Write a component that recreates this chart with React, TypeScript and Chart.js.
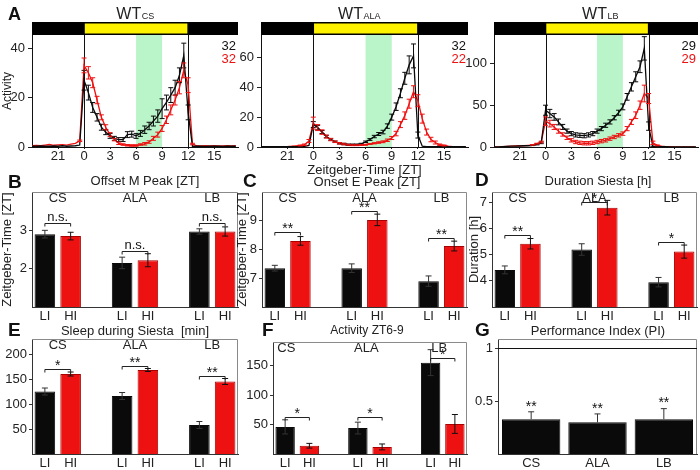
import { useEffect, useRef } from 'react';
import { Chart, registerables } from 'chart.js';

Chart.register(...registerables);

const FONT = "'Liberation Sans', Arial, Helvetica, sans-serif";
Chart.defaults.font.family = FONT;
Chart.defaults.color = '#222';

// ---------------- Panel A: activity profiles, half-hour bins ----------------
const ztHours = [
  -6, -5.5, -5, -4.5, -4, -3.5, -3, -2.5, -2, -1.5, -1, -0.5,
  0, 0.5, 1, 1.5, 2, 2.5, 3, 3.5, 4, 4.5, 5, 5.5,
  6, 6.5, 7, 7.5, 8, 8.5, 9, 9.5, 10, 10.5, 11, 11.5,
  12, 12.5, 13, 13.5, 14, 14.5, 15, 15.5, 16, 16.5, 17, 17.5,
];
const ztTickValues = [-3, 0, 3, 6, 9, 12, 15];
const ztTickLabels = ['21', '0', '3', '6', '9', '12', '15'];

const csLow = [
  0.3, 0.3, 0.4, 0.3, 0.3, 0.4, 0.3, 0.5, 0.3, 0.4, 0.5, 0.8,
  27, 22, 16, 12, 8, 6, 4.5, 3.5, 3, 3, 5, 5.2,
  4.5, 5.5, 7, 8.5, 10.5, 12.5, 15.5, 18, 21, 24, 29, 37,
  14, 0.3, 0.3, 0.3, 0.2, 0.3, 0.3, 0.3, 0.2, 0.3, 0.3, 0.3,
];
const csLowErr = [
  0, 0, 0, 0, 0, 0, 0, 0, 0, 0, 0, 0,
  4, 3, 2, 1.5, 1.2, 1, 1, 0.8, 0.8, 0.8, 1.2, 1.2,
  1, 1.2, 1.5, 1.5, 2, 2.5, 4, 3, 3, 3, 3, 5,
  3, 0, 0, 0, 0, 0, 0, 0, 0, 0, 0, 0,
];
const csHigh = [
  0.5, 0.6, 0.5, 0.8, 1, 0.7, 0.9, 1, 0.8, 1.2, 1.5, 2.5,
  33, 30, 26, 19, 12, 8, 5, 3, 1.5, 1, 0.7, 0.6,
  0.6, 1, 1.3, 2, 3.5, 5, 7.5, 11, 15, 19, 24, 31,
  25, 1.2, 0.5, 0.4, 0.5, 0.4, 0.5, 0.4, 0.4, 0.5, 0.4, 0.5,
];
const csHighErr = [
  0, 0, 0, 0, 0, 0, 0, 0, 0, 0, 0, 0.3,
  3, 2.5, 2, 1.5, 1, 1, 0.8, 0.5, 0.5, 0.3, 0.3, 0.3,
  0.3, 0.3, 0.5, 0.5, 0.8, 1, 1.2, 1.5, 2, 2, 2.5, 3,
  3, 0.3, 0, 0, 0, 0, 0, 0, 0, 0, 0, 0,
];

const alaLow = [
  0.2, 0.2, 0.2, 0.2, 0.2, 0.2, 0.2, 0.2, 0.3, 0.3, 0.5, 1,
  15, 13, 10, 7, 5, 3.5, 2.5, 2, 1.5, 1.5, 1.5, 2,
  3.5, 5, 7, 8.7, 10, 14, 20, 27, 36, 46, 55, 61,
  8, 0.5, 0.3, 0.2, 0.2, 0.2, 0.2, 0.2, 0.2, 0.2, 0.2, 0.2,
];
const alaLowErr = [
  0, 0, 0, 0, 0, 0, 0, 0, 0, 0, 0, 0,
  2, 1.5, 1, 0.8, 0.5, 0.5, 0.5, 0.5, 0.5, 0.5, 0.5, 0.5,
  0.5, 0.6, 0.8, 1, 1.2, 1.5, 2, 2.5, 3, 4, 6, 8,
  2, 0, 0, 0, 0, 0, 0, 0, 0, 0, 0, 0,
];
const alaHigh = [
  0, 0, 0, 0, 0.2, 0.2, 0.3, 0.5, 0.8, 1, 1.5, 4,
  16, 13, 10, 7, 5, 3.5, 2.5, 2, 1.5, 1.2, 1.2, 1.3,
  1.5, 2, 2.5, 3, 3.5, 4.5, 6, 9, 15, 21, 29, 37,
  31, 19, 10, 5, 3, 1.5, 1, 0.5, 0.3, 0.2, 0.2, 0.2,
];
const alaHighErr = [
  0, 0, 0, 0, 0, 0, 0, 0, 0, 0.3, 0.5, 1,
  4, 2, 1.5, 1, 0.8, 0.5, 0.5, 0.5, 0.3, 0.3, 0.3, 0.3,
  0.3, 0.3, 0.4, 0.5, 0.6, 0.8, 1, 1.5, 2, 2.5, 3, 4,
  4, 3, 2, 1.5, 1, 0.5, 0.3, 0, 0, 0, 0, 0,
];

const lbLow = [
  0, 0, 0.5, 0.8, 1, 1, 1.2, 1.5, 1.5, 2, 3, 5,
  44, 40, 36, 30, 24, 19, 16, 14.5, 14, 13.5, 14.5, 16,
  19, 22, 26, 30, 35, 41, 48, 60, 72, 84, 96, 118,
  25, 0.5, 0.3, 0.3, 0.3, 0.2, 0.2, 0.2, 0.2, 0.2, 0.2, 0.2,
];
const lbLowErr = [
  0, 0, 0, 0, 0, 0, 0, 0, 0, 0.3, 0.5, 1,
  6, 5, 4, 3.5, 3, 2.5, 2.5, 2.5, 2.5, 2.5, 2.5, 2.5,
  2.5, 2.5, 2.5, 2.5, 2.5, 3, 3.5, 4, 5, 6, 7, 14,
  5, 0.5, 0, 0, 0, 0, 0, 0, 0, 0, 0, 0,
];
const lbHigh = [
  0, 0, 0.5, 0.8, 1, 1.2, 1.5, 1.5, 2, 2.5, 4, 6,
  31, 28, 24, 19, 15, 11, 8, 6, 5, 4.5, 4.5, 5,
  6, 7, 8, 10, 12, 14, 16, 22, 30, 38, 50, 64,
  58, 5, 2, 1, 0.5, 0.3, 0.2, 0.2, 0.2, 0.2, 0.2, 0.2,
];
const lbHighErr = [
  0, 0, 0, 0, 0, 0, 0, 0, 0, 0.3, 0.5, 1,
  5, 4, 3, 2.5, 2, 2, 2, 2, 2, 2, 2, 2,
  2, 2, 2, 2, 2, 2, 2, 2.5, 3, 4, 5, 10,
  6, 2, 0.5, 0, 0, 0, 0, 0, 0, 0, 0, 0,
];

// ---------------- Panels B-G: LI vs HI summaries (CS, ALA, LB) ----------------
const strains = ['CS', 'ALA', 'LB'];
const slotLabels = ['LI', 'HI', '', 'LI', 'HI', '', 'LI', 'HI'];

const offsetLI = [2.9, 2.15, 2.97];
const offsetHI = [2.85, 2.22, 2.97];
const offsetLIErr = [0.1, 0.15, 0.07];
const offsetHIErr = [0.1, 0.17, 0.12];
const offsetSig = ['n.s.', 'n.s.', 'n.s.'];
const offsetSigAt = [3.2, 2.47, 3.2];

const onsetLI = [7.35, 7.35, 6.9];
const onsetHI = [8.3, 9.03, 8.12];
const onsetLIErr = [0.1, 0.15, 0.18];
const onsetHIErr = [0.15, 0.2, 0.17];
const onsetSig = ['**', '**', '**'];
const onsetSigAt = [8.6, 9.35, 8.4];

const durationLI = [4.42, 5.2, 3.95];
const durationHI = [5.42, 6.8, 5.12];
const durationLIErr = [0.15, 0.22, 0.18];
const durationHIErr = [0.2, 0.28, 0.25];
const durationSig = ['**', '*', '*'];
const durationSigAt = [5.75, 7.0, 5.5];

const sleepLI = [125, 116, 58];
const sleepHI = [160, 168, 145];
const sleepLIErr = [7, 7, 7];
const sleepHIErr = [4, 3, 6];
const sleepSig = ['*', '**', '**'];
const sleepSigAt = [170, 176, 156];

const activityLI = [46, 44, 155];
const activityHI = [14, 12, 51];
const activityLIErr = [12, 10, 22];
const activityHIErr = [4, 5, 16];
const activitySig = ['*', '*', '*'];
const activitySigAt = [63, 63, 163];

const performanceIndex = [0.33, 0.3, 0.33];
const performanceErr = [0.07, 0.08, 0.1];
const performanceSig = ['**', '**', '**'];

// ---------------- styling ----------------
const BLACK = '#0a0a0a';
const RED = '#ee1111';
const RED_EDGE = '#a80000';
const GREEN = '#b9f5c8';
const YELLOW = '#fff200';

type Box = { left: number; top: number; width: number; height: number };
type Area = { left: number; top: number; right: number; bottom: number };

function drawLetter(ctx: any, box: Box, letter: string, at: number[], size = 19) {
  ctx.save();
  ctx.font = `bold ${size}px ${FONT}`;
  ctx.fillStyle = '#111';
  ctx.textAlign = 'left';
  ctx.textBaseline = 'middle';
  ctx.fillText(letter, at[0] - box.left, at[1] - box.top);
  ctx.restore();
}

function drawTitle(ctx: any, box: Box, text: string, at: number[], size = 13) {
  ctx.save();
  ctx.font = `${size}px ${FONT}`;
  ctx.fillStyle = '#222';
  ctx.textAlign = 'center';
  ctx.textBaseline = 'middle';
  ctx.fillText(text, at[0] - box.left, at[1] - box.top);
  ctx.restore();
}

function errBar(ctx: any, x: number, yTop: number, yBot: number, cap: number, color: string) {
  ctx.strokeStyle = color;
  ctx.beginPath();
  ctx.moveTo(x, yTop);
  ctx.lineTo(x, yBot);
  ctx.moveTo(x - cap, yTop);
  ctx.lineTo(x + cap, yTop);
  ctx.moveTo(x - cap, yBot);
  ctx.lineTo(x + cap, yBot);
  ctx.stroke();
}

// ---------------- line panels ----------------
type LinePanel = {
  box: Box; area: Area; xH: number; yMax: number; yTicks: number[];
  low: number[]; lowErr: number[]; high: number[]; highErr: number[];
  nLow: string; nHigh: string; sub: string; titleAt: number[];
  letter?: string; yTitle?: string; xTitle?: string;
};

const linePanels: LinePanel[] = [
  {
    box: { left: 0, top: 0, width: 245, height: 170 },
    area: { left: 32, top: 35, right: 238, bottom: 147 }, xH: 18,
    yMax: 45.3, yTicks: [0, 20, 40],
    low: csLow, lowErr: csLowErr, high: csHigh, highErr: csHighErr,
    nLow: '32', nHigh: '32', sub: 'CS', titleAt: [135, 18.5], letter: 'A', yTitle: 'Activity',
  },
  {
    box: { left: 238, top: 0, width: 234, height: 180 },
    area: { left: 261, top: 35, right: 468, bottom: 147 }, xH: 33,
    yMax: 75, yTicks: [0, 20, 40, 60],
    low: alaLow, lowErr: alaLowErr, high: alaHigh, highErr: alaHighErr,
    nLow: '32', nHigh: '22', sub: 'ALA', titleAt: [359, 18.5], xTitle: 'Zeitgeber-Time [ZT]',
  },
  {
    box: { left: 462, top: 0, width: 238, height: 170 },
    area: { left: 494, top: 35, right: 698, bottom: 147 }, xH: 18,
    yMax: 134, yTicks: [0, 50, 100],
    low: lbLow, lowErr: lbLowErr, high: lbHigh, highErr: lbHighErr,
    nLow: '29', nHigh: '29', sub: 'LB', titleAt: [600, 18.5],
  },
];

function lineConfig(p: LinePanel) {
  const mk = (vals: number[]) => ztHours.map((h, i) => ({ x: h, y: vals[i] }));
  const errs = [p.lowErr, p.highErr];
  const vals = [p.low, p.high];
  const plugin = {
    id: 'panelA',
    beforeDatasetsDraw(chart: any) {
      const { ctx, chartArea: a, scales } = chart;
      const xs = scales.x;
      const x6 = xs.getPixelForValue(6);
      const x9 = xs.getPixelForValue(9);
      ctx.save();
      ctx.fillStyle = GREEN;
      ctx.fillRect(x6, a.top, x9 - x6, a.bottom - a.top);
      ctx.strokeStyle = '#111';
      ctx.lineWidth = 1;
      [0, 12].forEach((h) => {
        const x = Math.round(xs.getPixelForValue(h)) + 0.5;
        ctx.beginPath();
        ctx.moveTo(x, a.top);
        ctx.lineTo(x, a.bottom);
        ctx.stroke();
      });
      ctx.restore();
    },
    afterDatasetsDraw(chart: any) {
      const { ctx, scales } = chart;
      ctx.save();
      ctx.lineWidth = 1;
      [0, 1].forEach((d) => {
        const meta = chart.getDatasetMeta(d);
        const color = d === 0 ? BLACK : RED;
        meta.data.forEach((pt: any, i: number) => {
          const e = errs[d][i];
          if (!e) return;
          const v = vals[d][i];
          errBar(ctx, pt.x, scales.y.getPixelForValue(v + e), scales.y.getPixelForValue(Math.max(0, v - e)), 2.5, color);
        });
      });
      ctx.restore();
    },
    afterDraw(chart: any) {
      const { ctx, chartArea: a, scales } = chart;
      const xs = scales.x;
      const x0 = xs.getPixelForValue(0);
      const x12 = xs.getPixelForValue(12);
      const top = a.top - 13;
      ctx.save();
      ctx.fillStyle = '#000';
      ctx.fillRect(a.left, top, x0 - a.left, 13);
      ctx.fillRect(x12, top, a.right - x12, 13);
      ctx.fillStyle = YELLOW;
      ctx.fillRect(x0, top, x12 - x0, 13);
      ctx.strokeStyle = '#000';
      ctx.lineWidth = 1.5;
      ctx.strokeRect(x0, top + 0.75, x12 - x0, 11.5);
      // sample sizes
      ctx.font = `13px ${FONT}`;
      ctx.textAlign = 'right';
      ctx.textBaseline = 'middle';
      ctx.fillStyle = '#111';
      ctx.fillText(p.nLow, a.right - 2, a.top + 11);
      ctx.fillStyle = RED;
      ctx.fillText(p.nHigh, a.right - 2, a.top + 24);
      // title WT + strain
      ctx.fillStyle = '#222';
      ctx.textBaseline = 'alphabetic';
      ctx.textAlign = 'left';
      ctx.font = `16px ${FONT}`;
      const w1 = ctx.measureText('WT').width;
      ctx.font = `9px ${FONT}`;
      const w2 = ctx.measureText(p.sub).width;
      const sx = p.titleAt[0] - p.box.left - (w1 + w2) / 2;
      const sy = p.titleAt[1] - p.box.top;
      ctx.font = `16px ${FONT}`;
      ctx.fillText('WT', sx, sy);
      ctx.font = `9px ${FONT}`;
      ctx.fillText(p.sub, sx + w1 + 0.5, sy);
      ctx.restore();
      if (p.letter) drawLetter(ctx, p.box, p.letter, [8, 15], 18);
    },
  };
  const line = (vals: number[], color: string) => ({
    data: mk(vals), borderColor: color, backgroundColor: color,
    borderWidth: 1.3, pointRadius: 0, tension: 0,
  });
  return {
    type: 'line',
    data: { datasets: [line(p.low, BLACK), line(p.high, RED)] },
    options: {
      animation: false,
      responsive: false,
      maintainAspectRatio: false,
      layout: {
        padding: {
          left: 0,
          top: p.area.top - p.box.top,
          right: p.box.left + p.box.width - p.area.right,
          bottom: p.box.top + p.box.height - p.area.bottom - p.xH,
        },
      },
      plugins: { legend: { display: false }, tooltip: { enabled: false } },
      scales: {
        x: {
          type: 'linear', min: -6, max: 17.75,
          grid: { display: true, drawOnChartArea: false, tickLength: 2, color: '#222' },
          border: { color: '#111' },
          ticks: {
            font: { size: 13 }, padding: 0, maxRotation: 0, autoSkip: false,
            callback: (_v: any, i: number) => ztTickLabels[i] ?? '',
          },
          afterBuildTicks: (s: any) => { s.ticks = ztTickValues.map((v) => ({ value: v })); },
          afterFit: (s: any) => { s.height = p.xH; },
          title: { display: !!p.xTitle, text: p.xTitle || '', font: { size: 13 }, padding: { top: 0, bottom: 2 } },
        },
        y: {
          min: 0, max: p.yMax,
          grid: { display: true, drawOnChartArea: false, tickLength: 4, color: '#222' },
          border: { color: '#111' },
          ticks: { font: { size: 13 }, padding: 3 },
          afterBuildTicks: (s: any) => { s.ticks = p.yTicks.map((v) => ({ value: v })); },
          afterFit: (s: any) => { s.width = p.area.left - p.box.left; },
          title: { display: !!p.yTitle, text: p.yTitle || '', font: { size: 12 }, padding: { top: 0, bottom: 0 } },
        },
      },
    },
    plugins: [plugin],
  };
}

// ---------------- bar panels ----------------
type BarPanel = {
  box: Box; area: Area; letter: string; letterAt: number[]; title: string; titleAt: number[]; titleSize: number;
  low: number[]; lowErr: number[]; high: number[]; highErr: number[]; sig: string[]; sigAt: number[];
  yMin: number; yMax: number; yTicks: number[]; yTitle?: string; yTitlePad?: number; groupPos: number[];
};

const X_AXIS_H = 16;

const barPanels: BarPanel[] = [
  {
    box: { left: 0, top: 170, width: 245, height: 155 }, area: { left: 32, top: 192, right: 238, bottom: 307 },
    letter: 'B', letterAt: [8, 183], title: 'Offset M Peak [ZT]', titleAt: [145, 181], titleSize: 13,
    low: offsetLI, lowErr: offsetLIErr, high: offsetHI, highErr: offsetHIErr, sig: offsetSig, sigAt: offsetSigAt,
    yMin: 1, yMax: 4, yTicks: [2, 3], yTitle: 'Zeitgeber-Time [ZT]', yTitlePad: 0, groupPos: [0.5, 3.5, 6.5],
  },
  {
    box: { left: 232, top: 170, width: 240, height: 155 }, area: { left: 262, top: 192, right: 467, bottom: 307 },
    letter: 'C', letterAt: [243, 182], title: 'Onset E Peak [ZT]', titleAt: [367, 182], titleSize: 13,
    low: onsetLI, lowErr: onsetLIErr, high: onsetHI, highErr: onsetHIErr, sig: onsetSig, sigAt: onsetSigAt,
    yMin: 6, yMax: 10, yTicks: [7, 8, 9], yTitle: 'Zeitgeber-Time [ZT]', yTitlePad: 3, groupPos: [0.5, 3.5, 6.5],
  },
  {
    box: { left: 462, top: 170, width: 238, height: 155 }, area: { left: 492, top: 192, right: 697, bottom: 307 },
    letter: 'D', letterAt: [475, 181], title: 'Duration Siesta [h]', titleAt: [598, 181], titleSize: 13,
    low: durationLI, lowErr: durationLIErr, high: durationHI, highErr: durationHIErr, sig: durationSig, sigAt: durationSigAt,
    yMin: 3, yMax: 7.4, yTicks: [4, 5, 6, 7], yTitle: 'Duration [h]', yTitlePad: 5, groupPos: [0.5, 3.5, 6.5],
  },
  {
    box: { left: 0, top: 318, width: 245, height: 152 }, area: { left: 32, top: 339, right: 238, bottom: 454 },
    letter: 'E', letterAt: [8, 331], title: 'Sleep during Siesta  [min]', titleAt: [135, 331], titleSize: 13,
    low: sleepLI, lowErr: sleepLIErr, high: sleepHI, highErr: sleepHIErr, sig: sleepSig, sigAt: sleepSigAt,
    yMin: 0, yMax: 230, yTicks: [50, 100, 150, 200], groupPos: [0.5, 3.5, 6.5],
  },
  {
    box: { left: 232, top: 318, width: 240, height: 152 }, area: { left: 273, top: 342, right: 467, bottom: 454 },
    letter: 'F', letterAt: [262, 331], title: 'Activity ZT6-9', titleAt: [367, 331], titleSize: 12,
    low: activityLI, lowErr: activityLIErr, high: activityHI, highErr: activityHIErr, sig: activitySig, sigAt: activitySigAt,
    yMin: 0, yMax: 190, yTicks: [50, 100, 150], groupPos: [0.05, 3.35, 6.35],
  },
];

const interleave = (a: number[], b: number[]) => [a[0], b[0], null, a[1], b[1], null, a[2], b[2]];

function commonY(p: { box: Box; area: Area; yMin: number; yMax: number; yTicks: number[]; yTitle?: string; yTitlePad?: number }) {
  return {
    min: p.yMin, max: p.yMax,
    grid: { display: true, drawOnChartArea: false, tickLength: 3, color: '#333' },
    border: { color: '#333' },
    ticks: { font: { size: 13 }, padding: 2, callback: (v: any) => String(v) },
    afterBuildTicks: (s: any) => { s.ticks = p.yTicks.map((v) => ({ value: v })); },
    afterFit: (s: any) => { s.width = p.area.left - p.box.left; },
    title: { display: !!p.yTitle, text: p.yTitle || '', font: { size: 13 }, padding: { top: p.yTitlePad || 0, bottom: 0 } },
  };
}

function commonX() {
  return {
    type: 'category',
    grid: { display: false, drawTicks: false, tickLength: 0 },
    border: { color: '#333' },
    ticks: { font: { size: 13 }, padding: 2, maxRotation: 0, autoSkip: false },
    afterFit: (s: any) => { s.height = X_AXIS_H; },
  };
}

function commonLayout(box: Box, area: Area) {
  return {
    padding: {
      left: 0,
      top: area.top - box.top,
      right: box.left + box.width - area.right,
      bottom: box.top + box.height - area.bottom - X_AXIS_H,
    },
  };
}

function drawFrame(ctx: any, a: any) {
  ctx.save();
  ctx.strokeStyle = '#8a8a8a';
  ctx.lineWidth = 1;
  ctx.beginPath();
  ctx.moveTo(a.left, a.top + 0.5);
  ctx.lineTo(a.right - 0.5, a.top + 0.5);
  ctx.lineTo(a.right - 0.5, a.bottom);
  ctx.stroke();
  ctx.restore();
}

function barConfig(p: BarPanel) {
  const values = interleave(p.low, p.high);
  const errors = interleave(p.lowErr, p.highErr);
  const fills = values.map((_, i) => (i % 3 === 0 ? BLACK : RED));
  const edges = values.map((_, i) => (i % 3 === 0 ? BLACK : RED_EDGE));
  const plugin = {
    id: 'barDecor',
    afterDatasetsDraw(chart: any) {
      const { ctx, chartArea: a, scales } = chart;
      const ys = scales.y;
      const meta = chart.getDatasetMeta(0);
      drawFrame(ctx, a);
      ctx.save();
      ctx.lineWidth = 1;
      values.forEach((v, i) => {
        const e = errors[i];
        if (v == null || !e) return;
        const el = meta.data[i];
        errBar(ctx, el.x, ys.getPixelForValue(v + e), ys.getPixelForValue(v - e), 3, i % 3 === 0 ? '#333' : '#111');
      });
      // significance brackets
      ctx.strokeStyle = '#222';
      ctx.fillStyle = '#111';
      ctx.textAlign = 'center';
      ctx.textBaseline = 'bottom';
      p.sigAt.forEach((s, g) => {
        const x1 = meta.data[g * 3].x;
        const x2 = meta.data[g * 3 + 1].x;
        const y = Math.round(ys.getPixelForValue(s)) + 0.5;
        ctx.beginPath();
        ctx.moveTo(x1, y + 3);
        ctx.lineTo(x1, y);
        ctx.lineTo(x2, y);
        ctx.lineTo(x2, y + 3);
        ctx.stroke();
        ctx.font = `${p.sig[g] === 'n.s.' ? 13 : 14}px ${FONT}`;
        ctx.fillText(p.sig[g], (x1 + x2) / 2, y + (p.sig[g] === 'n.s.' ? 0 : 4));
      });
      // strain labels
      ctx.font = `13px ${FONT}`;
      ctx.fillStyle = '#222';
      ctx.textBaseline = 'middle';
      p.groupPos.forEach((gp, g) => {
        ctx.fillText(strains[g], scales.x.getPixelForValue(gp), a.top + 6);
      });
      ctx.restore();
      drawTitle(ctx, p.box, p.title, p.titleAt, p.titleSize);
      drawLetter(ctx, p.box, p.letter, p.letterAt);
    },
  };
  return {
    type: 'bar',
    data: {
      labels: slotLabels,
      datasets: [{
        data: values, backgroundColor: fills, borderColor: edges, borderWidth: 1,
        barPercentage: 0.8, categoryPercentage: 1,
      }],
    },
    options: {
      animation: false,
      responsive: false,
      maintainAspectRatio: false,
      layout: commonLayout(p.box, p.area),
      plugins: { legend: { display: false }, tooltip: { enabled: false } },
      scales: { x: commonX(), y: commonY(p) },
    },
    plugins: [plugin],
  };
}

const piPanel = {
  box: { left: 462, top: 318, width: 238, height: 152 },
  area: { left: 498, top: 339, right: 697, bottom: 454 },
  yMin: 0, yMax: 1.09, yTicks: [0.5, 1],
};

function piConfig() {
  const p = piPanel;
  const plugin = {
    id: 'piDecor',
    afterDatasetsDraw(chart: any) {
      const { ctx, chartArea: a, scales } = chart;
      const ys = scales.y;
      const meta = chart.getDatasetMeta(0);
      drawFrame(ctx, a);
      ctx.save();
      ctx.strokeStyle = '#111';
      ctx.lineWidth = 1;
      const y1 = Math.round(ys.getPixelForValue(1)) + 0.5;
      ctx.beginPath();
      ctx.moveTo(a.left, y1);
      ctx.lineTo(a.right, y1);
      ctx.stroke();
      ctx.font = `14px ${FONT}`;
      ctx.fillStyle = '#111';
      ctx.textAlign = 'center';
      ctx.textBaseline = 'bottom';
      performanceIndex.forEach((v, i) => {
        const el = meta.data[i];
        const yTop = ys.getPixelForValue(v + performanceErr[i]);
        ctx.strokeStyle = '#333';
        ctx.beginPath();
        ctx.moveTo(el.x, ys.getPixelForValue(v));
        ctx.lineTo(el.x, yTop);
        ctx.moveTo(el.x - 3, yTop);
        ctx.lineTo(el.x + 3, yTop);
        ctx.stroke();
        ctx.fillText(performanceSig[i], el.x, yTop + 2);
      });
      ctx.restore();
      drawTitle(ctx, p.box, 'Performance Index (PI)', [598, 331], 13);
      drawLetter(ctx, p.box, 'G', [475, 331]);
    },
  };
  return {
    type: 'bar',
    data: {
      labels: strains,
      datasets: [{
        data: performanceIndex, backgroundColor: BLACK, borderColor: BLACK, borderWidth: 1,
        barPercentage: 0.88, categoryPercentage: 1,
      }],
    },
    options: {
      animation: false,
      responsive: false,
      maintainAspectRatio: false,
      layout: commonLayout(p.box, p.area),
      plugins: { legend: { display: false }, tooltip: { enabled: false } },
      scales: { x: commonX(), y: commonY(p) },
    },
    plugins: [plugin],
  };
}

function ChartCanvas({ box, make }: { box: Box; make: () => any }) {
  const ref = useRef<HTMLCanvasElement>(null);
  useEffect(() => {
    const chart = new Chart(ref.current as HTMLCanvasElement, make());
    return () => chart.destroy();
  }, []);
  return (
    <canvas
      ref={ref}
      width={box.width}
      height={box.height}
      style={{ position: 'absolute', left: box.left, top: box.top, width: box.width, height: box.height }}
    />
  );
}

export default function App() {
  return (
    <div style={{ position: 'absolute', left: 0, top: 0, width: 700, height: 470, background: '#fff', overflow: 'hidden' }}>
      {linePanels.map((p, i) => (
        <ChartCanvas key={`a${i}`} box={p.box} make={() => lineConfig(p)} />
      ))}
      {barPanels.map((p) => (
        <ChartCanvas key={p.letter} box={p.box} make={() => barConfig(p)} />
      ))}
      <ChartCanvas box={piPanel.box} make={() => piConfig()} />
    </div>
  );
}
